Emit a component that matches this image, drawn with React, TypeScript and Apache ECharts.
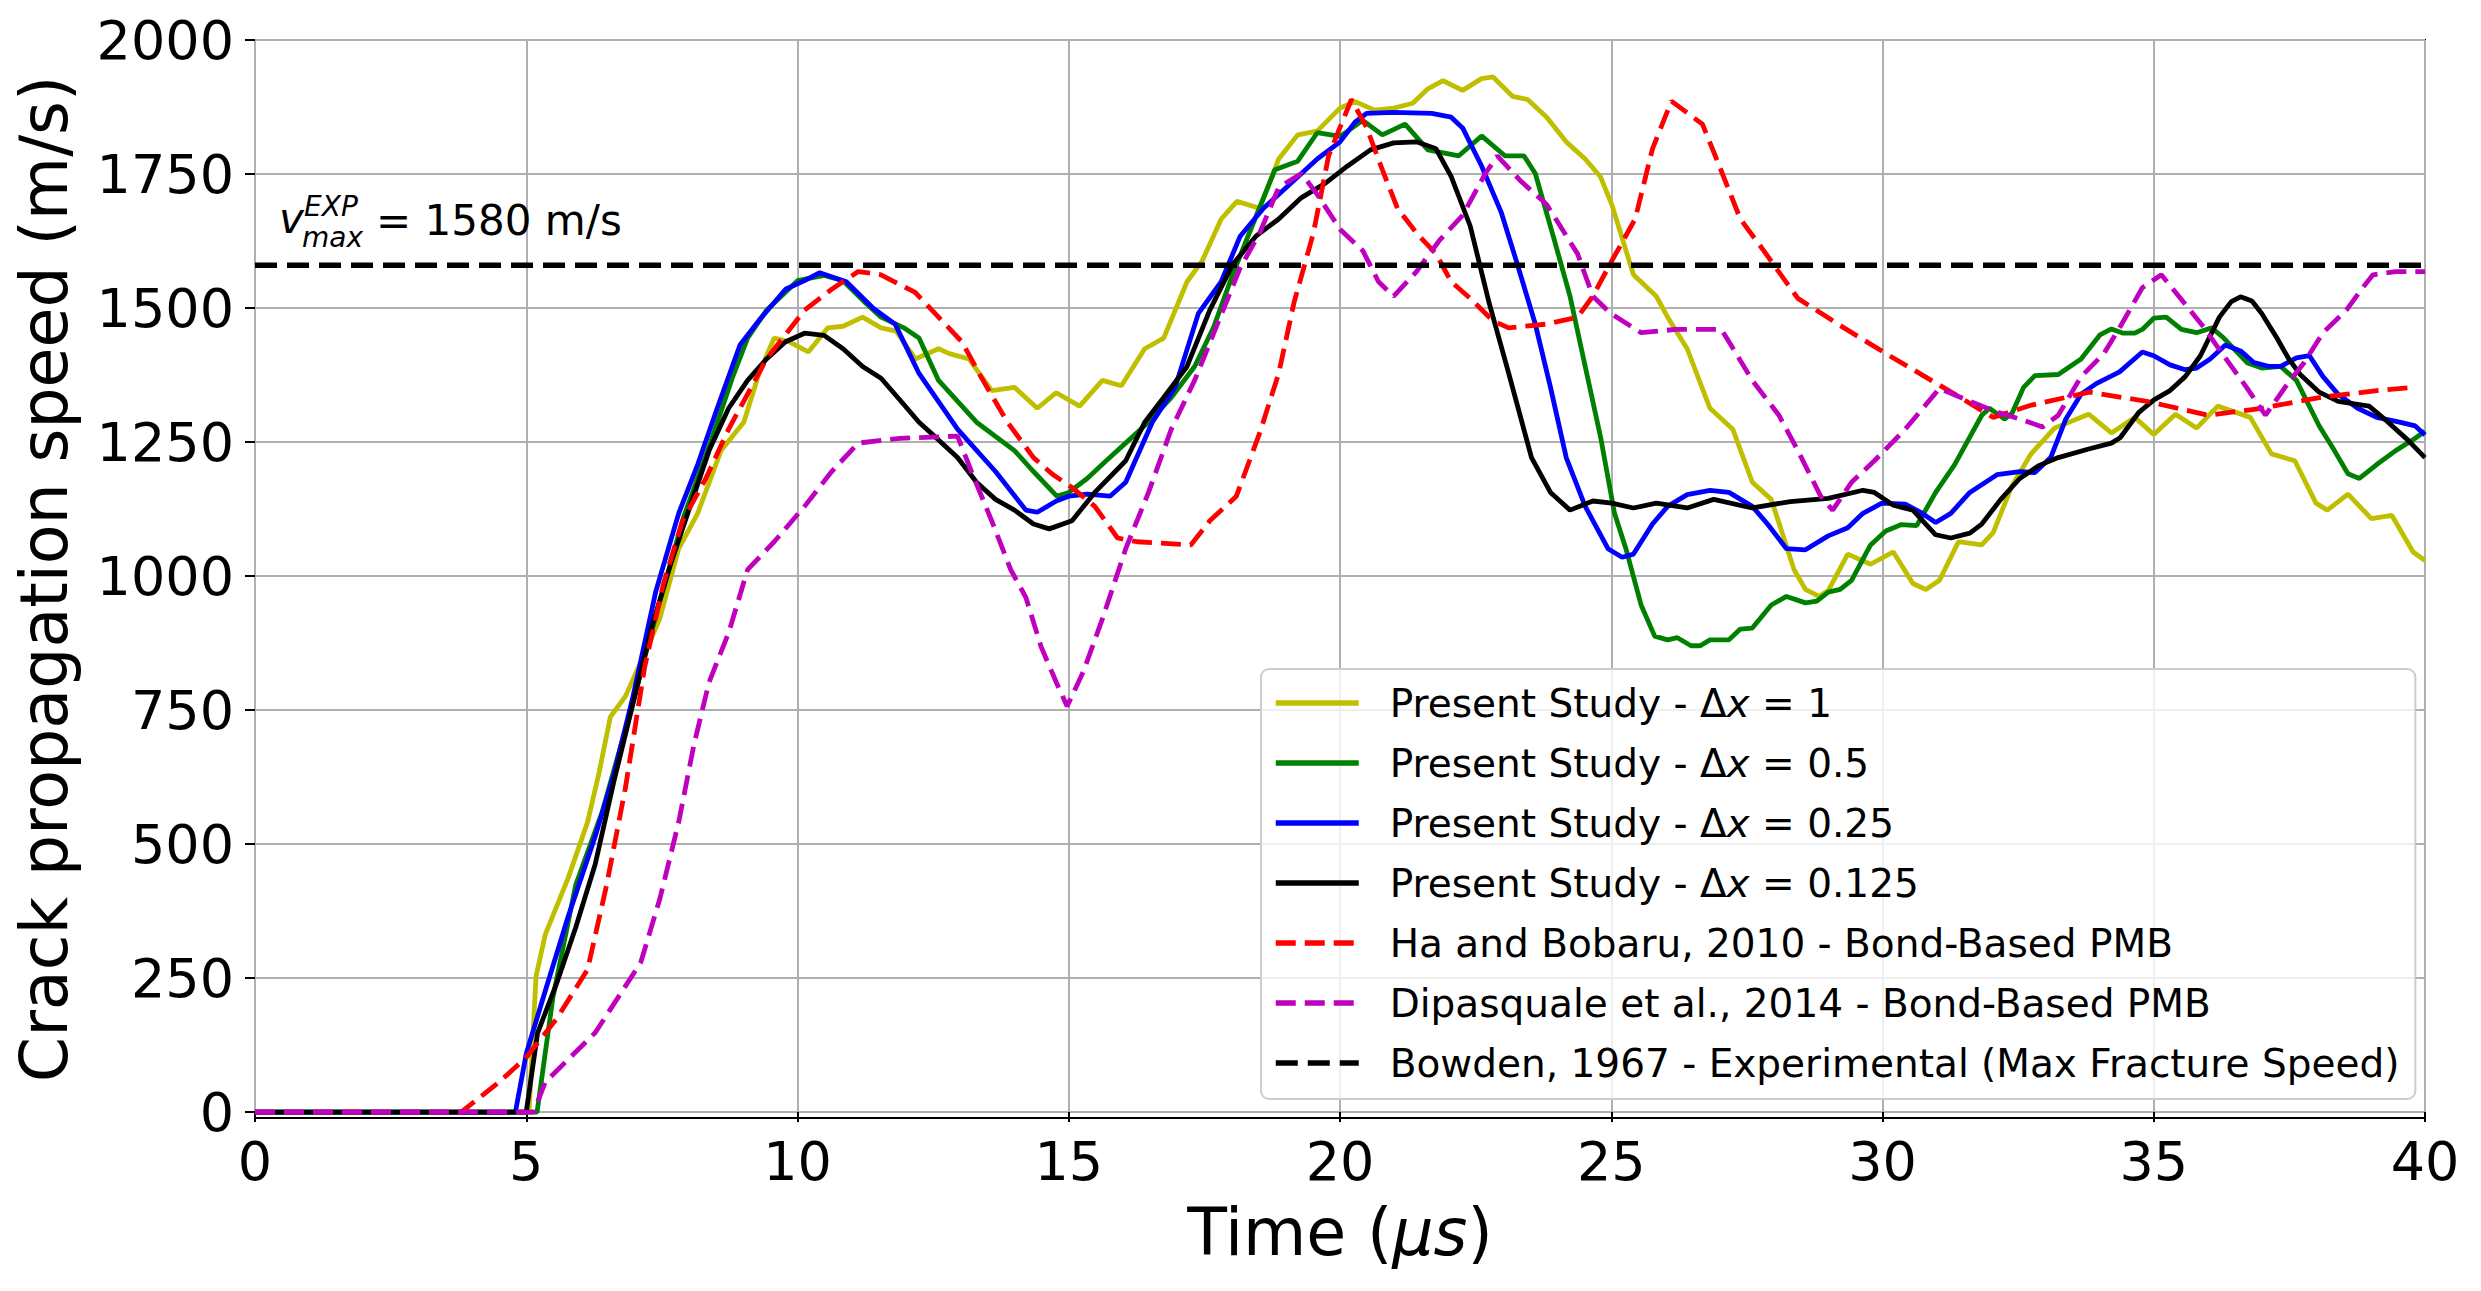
import React, { useEffect, useRef } from "react";
import * as echarts from "echarts";

const timeTicks = [0, 5, 10, 15, 20, 25, 30, 35, 40];
const speedTicks = [0, 250, 500, 750, 1000, 1250, 1500, 1750, 2000];
const expSpeed = 1580;

const seriesNames = [
  "Present Study - Δx = 1",
  "Present Study - Δx = 0.5",
  "Present Study - Δx = 0.25",
  "Present Study - Δx = 0.125",
  "Ha and Bobaru, 2010 - Bond-Based PMB",
  "Dipasquale et al., 2014 - Bond-Based PMB",
  "Bowden, 1967 - Experimental (Max Fracture Speed)",
];

const dx1Data: [number, number][] = [
  [0, 0], [5.05, 0], [5.18, 253], [5.35, 331], [5.77, 436], [6.13, 541], [6.34, 632], [6.55, 737],
  [6.83, 776], [7.18, 855], [7.46, 920], [7.81, 1051], [8.16, 1117], [8.59, 1234], [9.01, 1287],
  [9.29, 1378], [9.57, 1444], [9.85, 1437], [10.2, 1418], [10.56, 1463], [10.84, 1466], [11.2, 1483],
  [11.54, 1463], [11.82, 1457], [12.17, 1405], [12.6, 1424], [12.8, 1415], [13.16, 1405], [13.58, 1346],
  [14.0, 1352], [14.42, 1313], [14.77, 1342], [15.2, 1317], [15.62, 1365], [15.97, 1355], [16.4, 1424],
  [16.75, 1444], [17.18, 1549], [17.46, 1588], [17.81, 1666], [18.1, 1699], [18.52, 1686], [18.87, 1778],
  [19.22, 1823], [19.58, 1830], [20.0, 1873], [20.28, 1885], [20.64, 1869], [20.99, 1873], [21.34, 1882],
  [21.62, 1909], [21.9, 1924], [22.26, 1906], [22.61, 1928], [22.82, 1931], [23.18, 1895], [23.46, 1889],
  [23.81, 1856], [24.17, 1810], [24.52, 1778], [24.8, 1745], [25.01, 1693], [25.41, 1562], [25.83, 1522],
  [26.04, 1483], [26.4, 1424], [26.82, 1313], [27.24, 1274], [27.6, 1175], [27.95, 1143], [28.37, 1012],
  [28.58, 975], [28.83, 962], [29.0, 973], [29.36, 1041], [29.78, 1022], [30.2, 1045], [30.56, 986],
  [30.8, 975], [31.05, 992], [31.4, 1064], [31.83, 1058], [32.04, 1081], [32.39, 1169], [32.74, 1228],
  [33.17, 1276], [33.8, 1302], [34.22, 1267], [34.65, 1296], [35.0, 1264], [35.4, 1302], [35.79, 1276],
  [36.18, 1317], [36.78, 1296], [37.17, 1228], [37.6, 1215], [37.99, 1136], [38.2, 1123], [38.58, 1153],
  [39.01, 1107], [39.39, 1113], [39.78, 1045], [40, 1029],
];

const dx05Data: [number, number][] = [
  [0, 0], [5.2, 0], [5.49, 213], [5.91, 423], [6.4, 560], [6.9, 740], [7.4, 930], [7.9, 1110],
  [8.4, 1250], [8.8, 1370], [9.08, 1444], [9.43, 1496], [10.0, 1551], [10.49, 1561], [10.84, 1551],
  [11.26, 1509], [11.54, 1483], [11.96, 1463], [12.24, 1444], [12.6, 1365], [13.3, 1287], [14.0, 1234],
  [14.35, 1195], [14.78, 1149], [15.0, 1156], [15.34, 1182], [15.69, 1215], [16.19, 1261], [16.47, 1287],
  [16.89, 1333], [17.32, 1391], [17.67, 1464], [18.02, 1562], [18.38, 1653], [18.8, 1758], [19.22, 1774],
  [19.58, 1827], [20.0, 1820], [20.42, 1850], [20.78, 1823], [21.2, 1843], [21.62, 1795], [22.19, 1784],
  [22.61, 1821], [23.04, 1784], [23.39, 1784], [23.6, 1751], [23.95, 1627], [24.24, 1522], [24.52, 1391],
  [24.8, 1261], [25.06, 1117], [25.27, 1051], [25.55, 946], [25.8, 888], [26.04, 881], [26.22, 885],
  [26.47, 870], [26.64, 870], [26.82, 881], [27.17, 881], [27.38, 901], [27.6, 903], [27.95, 946],
  [28.23, 962], [28.58, 950], [28.79, 953], [29.0, 970], [29.22, 975], [29.43, 992], [29.78, 1058],
  [30.06, 1084], [30.35, 1096], [30.63, 1094], [30.98, 1156], [31.33, 1208], [31.83, 1300], [31.97, 1313],
  [32.25, 1293], [32.39, 1304], [32.6, 1352], [32.81, 1374], [33.24, 1376], [33.66, 1405], [34.01, 1450],
  [34.22, 1461], [34.44, 1453], [34.65, 1453], [34.79, 1460], [35.0, 1481], [35.23, 1483], [35.51, 1460],
  [35.79, 1454], [36.07, 1463], [36.29, 1444], [36.72, 1398], [36.99, 1388], [37.34, 1391], [37.63, 1365],
  [38.05, 1280], [38.33, 1234], [38.58, 1191], [38.79, 1182], [39.11, 1208], [39.46, 1234], [39.82, 1257],
  [40, 1270],
];

const dx025Data: [number, number][] = [
  [0, 0], [4.8, 0], [5.0, 109], [5.35, 226], [5.77, 364], [6.27, 514], [6.62, 632], [6.97, 776],
  [7.39, 972], [7.81, 1117], [8.16, 1208], [8.52, 1313], [8.94, 1431], [9.29, 1477], [9.78, 1535],
  [10.13, 1551], [10.41, 1566], [10.9, 1549], [11.4, 1499], [11.8, 1470], [12.24, 1378], [12.95, 1274],
  [13.65, 1195], [14.21, 1123], [14.42, 1119], [14.77, 1140], [15.0, 1149], [15.34, 1153], [15.76, 1149],
  [16.05, 1175], [16.54, 1287], [16.96, 1352], [17.39, 1490], [17.81, 1549], [18.16, 1634], [18.59, 1686],
  [19.01, 1725], [19.58, 1778], [20.0, 1810], [20.28, 1847], [20.49, 1863], [20.99, 1865], [21.69, 1863],
  [22.05, 1856], [22.26, 1836], [22.61, 1765], [22.97, 1679], [23.25, 1588], [23.6, 1470], [23.88, 1352],
  [24.17, 1221], [24.52, 1130], [24.94, 1051], [25.2, 1035], [25.41, 1041], [25.76, 1097], [26.04, 1130],
  [26.4, 1152], [26.82, 1160], [27.17, 1156], [27.6, 1130], [27.88, 1097], [28.23, 1051], [28.58, 1049],
  [29.0, 1075], [29.36, 1090], [29.64, 1117], [29.99, 1136], [30.42, 1134], [30.7, 1119], [30.98, 1100],
  [31.26, 1117], [31.61, 1156], [32.11, 1189], [32.53, 1195], [32.81, 1193], [33.1, 1221], [33.38, 1293],
  [33.66, 1339], [33.94, 1359], [34.37, 1381], [34.79, 1418], [35.0, 1411], [35.3, 1394], [35.58, 1385],
  [35.79, 1388], [36.04, 1405], [36.32, 1431], [36.6, 1420], [36.85, 1398], [37.13, 1391], [37.34, 1391],
  [37.63, 1407], [37.87, 1411], [38.12, 1372], [38.4, 1339], [38.76, 1313], [39.11, 1296], [39.53, 1287],
  [39.82, 1280], [40, 1263],
];

const dx0125Data: [number, number][] = [
  [0, 0], [5.0, 0], [5.21, 148], [5.56, 240], [5.91, 344], [6.27, 462], [6.62, 619], [6.97, 763],
  [7.32, 907], [7.67, 1025], [8.02, 1130], [8.37, 1234], [8.73, 1313], [9.08, 1365], [9.43, 1405],
  [9.78, 1437], [10.13, 1453], [10.49, 1449], [10.84, 1424], [11.2, 1391], [11.54, 1369], [11.96, 1320],
  [12.24, 1287], [12.6, 1254], [12.95, 1221], [13.3, 1175], [13.65, 1143], [14.0, 1123], [14.35, 1097],
  [14.64, 1088], [15.06, 1103], [15.48, 1156], [16.05, 1215], [16.4, 1287], [16.75, 1333], [17.18, 1391],
  [17.6, 1496], [18.02, 1581], [18.45, 1634], [18.87, 1666], [19.29, 1706], [19.72, 1732], [20.14, 1765],
  [20.56, 1795], [20.99, 1808], [21.41, 1810], [21.77, 1797], [22.05, 1745], [22.4, 1653], [22.75, 1509],
  [23.11, 1378], [23.53, 1221], [23.88, 1156], [24.24, 1123], [24.66, 1140], [25.01, 1136], [25.41, 1127],
  [25.83, 1136], [26.4, 1127], [26.89, 1143], [27.6, 1127], [28.3, 1139], [29.0, 1145], [29.64, 1160],
  [29.85, 1156], [30.2, 1132], [30.56, 1123], [30.98, 1077], [31.26, 1071], [31.61, 1080], [31.83, 1097],
  [32.18, 1143], [32.53, 1182], [32.88, 1206], [33.24, 1221], [33.8, 1237], [34.22, 1248], [34.38, 1258],
  [34.73, 1306], [35.01, 1329], [35.3, 1346], [35.58, 1372], [35.86, 1411], [36.07, 1454], [36.21, 1483],
  [36.43, 1512], [36.6, 1521], [36.81, 1513], [36.99, 1490], [37.27, 1444], [37.49, 1405], [37.7, 1376],
  [38.05, 1343], [38.4, 1326], [38.97, 1317], [39.32, 1287], [39.68, 1254], [40, 1221],
];

const haBobaruData: [number, number][] = [
  [0, 0], [3.8, 0], [4.5, 56], [5.0, 102], [5.56, 174], [6.13, 266], [6.48, 423], [6.83, 606],
  [7.18, 829], [7.53, 986], [7.88, 1103], [8.31, 1182], [8.73, 1274], [9.43, 1405], [10.13, 1496],
  [10.63, 1535], [11.12, 1568], [11.54, 1562], [12.17, 1529], [12.6, 1483], [13.03, 1437], [13.38, 1372],
  [13.87, 1287], [14.35, 1221], [14.7, 1190], [15.06, 1165], [15.48, 1130], [15.9, 1071], [16.26, 1064],
  [17.25, 1058], [17.6, 1103], [18.09, 1149], [18.52, 1267], [18.87, 1378], [19.15, 1509], [19.51, 1640],
  [19.79, 1784], [20.0, 1837], [20.21, 1889], [20.49, 1837], [20.78, 1758], [21.06, 1686], [21.41, 1640],
  [21.77, 1601], [22.05, 1549], [22.4, 1518], [22.82, 1476], [23.11, 1463], [23.81, 1470], [24.38, 1483],
  [24.66, 1522], [25.01, 1588], [25.44, 1666], [25.76, 1797], [26.11, 1886], [26.68, 1843], [26.89, 1791],
  [27.38, 1666], [27.81, 1607], [28.44, 1518], [29.29, 1463], [30.13, 1411], [31.12, 1352], [32.04, 1296],
  [32.75, 1319], [33.81, 1343], [34.87, 1326], [36.0, 1300], [36.99, 1313], [38.05, 1333], [39.11, 1346],
  [39.78, 1352],
];

const dipasqualeData: [number, number][] = [
  [0, 0], [5.14, 0], [5.35, 56], [6.27, 148], [7.11, 279], [7.46, 397], [7.81, 541], [8.09, 685],
  [8.37, 802], [8.73, 894], [9.08, 1012], [9.57, 1064], [10.13, 1130], [10.63, 1195], [11.12, 1248],
  [11.89, 1257], [12.95, 1261], [13.23, 1189], [13.58, 1103], [13.93, 1012], [14.21, 960], [14.49, 868],
  [14.77, 802], [14.97, 757], [15.27, 822], [15.62, 920], [16.05, 1051], [16.47, 1156], [16.89, 1274],
  [17.32, 1365], [17.74, 1470], [18.16, 1575], [18.52, 1640], [18.87, 1725], [19.29, 1751], [19.58, 1712],
  [20.0, 1647], [20.42, 1607], [20.71, 1549], [20.99, 1522], [21.41, 1568], [21.84, 1627], [22.26, 1673],
  [22.68, 1751], [22.9, 1784], [23.32, 1738], [23.81, 1693], [24.38, 1601], [24.66, 1522], [24.99, 1490],
  [25.55, 1454], [26.18, 1460], [27.03, 1460], [27.17, 1437], [27.6, 1365], [28.09, 1300], [28.44, 1234],
  [28.86, 1149], [29.08, 1123], [29.43, 1175], [29.85, 1215], [30.42, 1274], [31.05, 1350], [31.61, 1326],
  [32.11, 1306], [32.53, 1293], [32.95, 1278], [33.24, 1300], [33.66, 1372], [34.08, 1415], [34.37, 1463],
  [34.79, 1538], [35.14, 1562], [35.51, 1516], [35.93, 1463], [36.29, 1411], [36.71, 1352], [37.06, 1300],
  [37.42, 1352], [37.77, 1398], [38.12, 1454], [38.55, 1496], [38.83, 1535], [39.04, 1562], [39.46, 1568],
  [40, 1568],
];

const bowdenData: [number, number][] = [
  [0, expSpeed],
  [40, expSpeed],
];

const FONT = "DejaVu Sans";

export default function App() {
  const ref = useRef<HTMLDivElement>(null);

  useEffect(() => {
    document.body.style.margin = "0";
    if (!ref.current) return;
    const chart = echarts.init(ref.current, null, { renderer: "svg" });

    const solid = (name: string, color: string, data: [number, number][]) => ({
      type: "line",
      name,
      data,
      showSymbol: false,
      symbol: "none",
      lineStyle: { color, width: 4.8, type: "solid" },
      itemStyle: { color },
      emphasis: { disabled: true },
    });
    const dashed = (name: string, color: string, data: [number, number][], width = 4.8, dash = [20, 9]) => ({
      type: "line",
      name,
      data,
      showSymbol: false,
      symbol: "none",
      lineStyle: { color, width, type: dash },
      itemStyle: { color },
      emphasis: { disabled: true },
    });

    chart.setOption({
      animation: false,
      backgroundColor: "#ffffff",
      grid: {
        left: 255,
        right: 56,
        top: 40,
        bottom: 173,
        show: true,
        borderColor: "#000000",
        borderWidth: 2,
        backgroundColor: "transparent",
        containLabel: false,
      },
      xAxis: {
        type: "value",
        min: timeTicks[0],
        max: timeTicks[timeTicks.length - 1],
        interval: 5,
        axisLine: { show: false },
        axisTick: { show: true, length: 10, lineStyle: { color: "#000", width: 2 } },
        axisLabel: {
          fontSize: 54,
          fontFamily: FONT,
          color: "#000",
          margin: 16,
          formatter: (v: number) => String(v),
        },
        splitLine: { show: true, lineStyle: { color: "#b0b0b0", width: 2 } },
        name: "Time ({i|μs})",
        nameLocation: "middle",
        nameGap: 82,
        nameTextStyle: {
          fontSize: 65,
          fontFamily: FONT,
          color: "#000",
          rich: { i: { fontSize: 65, fontFamily: FONT, fontStyle: "italic", color: "#000" } },
        },
      },
      yAxis: {
        type: "value",
        min: -11,
        max: speedTicks[speedTicks.length - 1],
        axisLine: { show: false },
        axisTick: {
          show: true,
          length: 10,
          customValues: speedTicks,
          lineStyle: { color: "#000", width: 2 },
        },
        axisLabel: {
          fontSize: 54,
          fontFamily: FONT,
          color: "#000",
          margin: 21,
          customValues: speedTicks,
          formatter: (v: number) => String(v),
        },
        splitLine: { show: true, lineStyle: { color: "#b0b0b0", width: 2 } },
        name: "Crack propagation speed (m/s)",
        nameLocation: "middle",
        nameRotate: 90,
        nameGap: 178,
        nameTextStyle: { fontSize: 65, fontFamily: FONT, color: "#000" },
      },
      legend: {
        orient: "vertical",
        left: 1261,
        top: 669,
        padding: [14, 16, 16, 12],
        itemGap: 20,
        itemWidth: 83,
        itemHeight: 14,
        selectedMode: false,
        backgroundColor: "rgba(255,255,255,0.8)",
        borderColor: "#cccccc",
        borderWidth: 2,
        borderRadius: 8,
        itemStyle: { opacity: 0, borderWidth: 0 },
        lineStyle: { width: 5.5 },
        data: seriesNames,
        formatter: (name: string) => name.replace("Δx", "Δ{i|x}"),
        textStyle: {
          fontSize: 39,
          fontFamily: FONT,
          color: "#000",
          lineHeight: 40,
          padding: [0, 0, 0, 26],
          rich: {
            i: { fontSize: 39, fontFamily: FONT, fontStyle: "italic", color: "#000", lineHeight: 40 },
          },
        },
      },
      series: [
        solid(seriesNames[0], "#bfbf00", dx1Data),
        solid(seriesNames[1], "#008000", dx05Data),
        solid(seriesNames[2], "#0000ff", dx025Data),
        solid(seriesNames[3], "#000000", dx0125Data),
        dashed(seriesNames[4], "#ff0000", haBobaruData),
        dashed(seriesNames[5], "#bf00bf", dipasqualeData),
        dashed(seriesNames[6], "#000000", bowdenData, 5.5, [22, 10]),
      ],
    });

    const anchor = chart.convertToPixel({ xAxisIndex: 0, yAxisIndex: 0 }, [0.48, 1640]) as number[];
    const ax = anchor[0];
    const ay = anchor[1];
    const t = (text: string, x: number, baseline: number, size: number, italic: boolean) => ({
      type: "text",
      x,
      y: baseline - 0.35 * size,
      z: 10,
      style: {
        text,
        fontSize: size,
        fontFamily: FONT,
        fontStyle: italic ? "italic" : "normal",
        fill: "#000",
        align: "left",
        verticalAlign: "middle",
        lineHeight: Math.round(size * 0.75),
      },
    });
    chart.setOption({
      graphic: [
        t("v", ax - 2, ay, 42, true),
        t("EXP", ax + 23, ay - 17, 28, true),
        t("max", ax + 21, ay + 14, 28, true),
        t("= 1580 m/s", ax + 95, ay + 2, 42, false),
      ],
    });

    return () => chart.dispose();
  }, []);

  return <div ref={ref} style={{ width: "2481px", height: "1291px" }} />;
}
